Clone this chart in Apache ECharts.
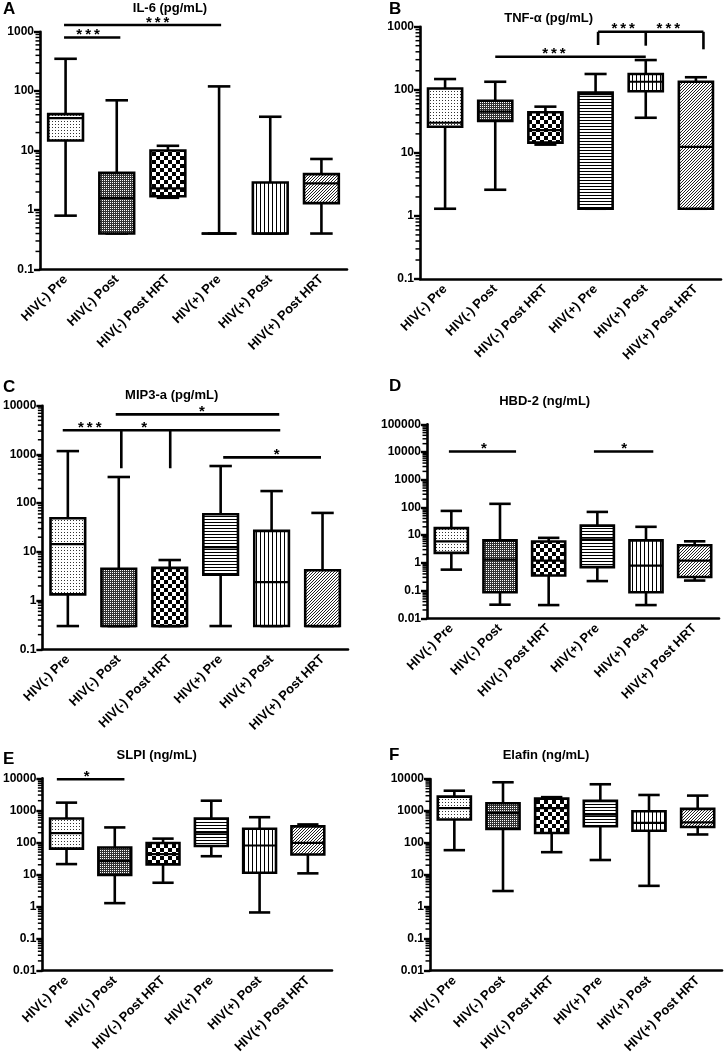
<!DOCTYPE html>
<html><head><meta charset="utf-8">
<script src="https://cdn.jsdelivr.net/npm/echarts@6/dist/echarts.min.js"></script>
<style>html,body{margin:0;padding:0;background:#fff}#c{width:725px;height:1056px}</style>
</head><body><div id="c"></div>
<script>
// ---------------- DATA ----------------
const categories = ["HIV(-) Pre","HIV(-) Post","HIV(-) Post HRT","HIV(+) Pre","HIV(+) Post","HIV(+) Post HRT"];
// each box: [min, q1, median, q3, max]
const il6   = [[0.8,14.7,35,41,350],[0.4,0.4,1.6,4.2,70],[1.6,1.7,2.3,10,12],[0.4,0.4,0.4,0.4,120],[0.4,0.4,0.4,2.9,37],[0.4,1.3,2.8,4.0,7.2]];
const tnfa  = [[1.3,26,30,105,148],[2.6,32,45,67,134],[13.5,14.5,23,44,54],[1.3,1.3,85,90,178],[36,95,134,178,296],[1.3,1.3,12.4,134,158]];
const mip3a = [[0.3,1.34,14.4,49,1170],[0.3,0.3,0.3,4.5,344],[0.3,0.3,0.3,4.7,6.8],[0.3,3.4,12.4,59,578],[0.3,0.3,2.4,27,177],[0.3,0.3,0.3,4.2,63]];
const hbd2  = [[0.57,2.3,6,18,75],[0.031,0.087,1.3,6.5,135],[0.03,0.35,1.2,5.9,8],[0.22,0.7,7,22,69],[0.03,0.087,0.8,6.5,20],[0.23,0.31,1.2,4.3,6]];
const slpi  = [[21,64,195,557,1740],[1.27,9.6,26,69,293],[5.5,20.6,43,96,131],[37,77,200,557,2000],[0.65,11.3,80,267,611],[10.8,42,96,315,363]];
const elafin= [[59,540,1230,2800,4300],[3.1,272,850,1740,7900],[51,204,1230,2430,2700],[29,330,760,2060,6840],[4.5,240,420,980,3160],[183,315,440,1160,3020]];

const panelTitles  = ["IL-6 (pg/mL)","TNF-α (pg/mL)","MIP3-a (pg/mL)","HBD-2 (ng/mL)","SLPI (ng/mL)","Elafin (ng/mL)"];
const panelLetters = ["A","B","C","D","E","F"];
const yMins = [0.1,0.1,0.1,0.01,0.01,0.01];
const yMaxs = [1000,1000,10000,100000,10000,10000];
const minorMultipliers = [2,3,4,5,6,7,8,9];

// significance: horizontal bars [xFrom, xTo, value], drops [x, valueTop, valueBottom], labels [x, value, text]
const sigBars = [
  [[-0.03,1.07,800],[-0.03,3.04,1300]],
  [[1,4,334],[3.05,5.15,830]],
  [[0.94,4.15,6650],[-0.1,4.17,3124],[3.05,4.97,871]],
  [[-0.05,1.33,10500],[2.93,4.15,10500]],
  [[-0.2,1.2,9300]],
  []
];
const sigDrops = [
  [],
  [[3.05,830,513],[4,830,500],[5.15,830,438]],
  [[1.05,3124,520],[2.01,3124,520]],
  [],[],[]
];
const sigLabels = [
  [[0.44,800,"***"],[1.8,1300,"***"]],
  [[2.17,334,"***"],[3.55,830,"***"],[4.45,830,"***"]],
  [[2.63,6650,"*"],[0.43,3124,"***"],[1.5,3124,"*"],[4.1,871,"*"]],
  [[0.67,10500,"*"],[3.55,10500,"*"]],
  [[0.42,9300,"*"]],
  []
];
const panelData = [il6,tnfa,mip3a,hbd2,slpi,elafin];

// ---------------- LAYOUT ----------------
const grids = [
  {left:40, top:31.7, width:307, height:237.6},
  {left:420,top:26.7, width:301, height:252.3},
  {left:40, top:405.7,width:308, height:243.6},
  {left:427,top:424.3,width:292, height:194},
  {left:41, top:778.3,width:291, height:194},
  {left:430,top:779,  width:292, height:192.7}
];
const titlePos  = [[170,8],[548.7,18.3],[171.7,395],[544.7,401.7],[156.7,755],[546,755]];
const letterPos = [[3,9.5],[389,9],[3,387.5],[389,386.7],[3,759],[389,755.5]];
const FONT = '"Liberation Sans", Arial, sans-serif';

// ---------------- PATTERNS ----------------
function mk(w,h,draw){const c=document.createElement('canvas');c.width=w;c.height=h;const g=c.getContext('2d');g.fillStyle='#fff';g.fillRect(0,0,w,h);draw(g);return {image:c,repeat:'repeat'};}
const pats = [
  mk(3,3,g=>{g.fillStyle='#333';g.fillRect(1,1,1,1);}),
  mk(2,2,g=>{g.fillStyle='#333';g.fillRect(0,1,1,1);g.fillRect(1,1,1,1);g.fillRect(1,0,1,1);}),
  mk(8,8,g=>{g.fillStyle='#000';g.fillRect(0,0,4,4);g.fillRect(4,4,4,4);}),
  mk(1,3,g=>{g.fillStyle='#000';g.fillRect(0,0,1,1);}),
  mk(4,1,g=>{g.fillStyle='#000';g.fillRect(0,0,1,1);}),
  mk(3,3,g=>{g.fillStyle='#222';for(let i=0;i<3;i++)g.fillRect(2-i,i,1,1);})
];

function renderBox(params, api){
  const i = api.value(0);
  const v=[api.value(1),api.value(2),api.value(3),api.value(4),api.value(5)];
  const band = api.size([1,1])[0];
  const bw = band*0.68, cw = band*0.44;
  const p = v.map(val=>api.coord([i,val]));
  const cx = p[0][0];
  const yMin=p[0][1], yQ1=p[1][1], yMed=p[2][1], yQ3=p[3][1], yMax=p[4][1];
  const ls={stroke:'#000',lineWidth:2.6};
  return {type:'group',children:[
    {type:'line',shape:{x1:cx,y1:yMin,x2:cx,y2:yMax},style:ls},
    {type:'line',shape:{x1:cx-cw/2,y1:yMin,x2:cx+cw/2,y2:yMin},style:ls},
    {type:'line',shape:{x1:cx-cw/2,y1:yMax,x2:cx+cw/2,y2:yMax},style:ls},
    {type:'rect',shape:{x:cx-bw/2,y:yQ3,width:bw,height:yQ1-yQ3},style:{fill:pats[i],stroke:'#000',lineWidth:2.6}},
    {type:'line',shape:{x1:cx-bw/2,y1:yMed,x2:cx+bw/2,y2:yMed},style:{stroke:'#000',lineWidth:2.2}}
  ]};
}
function renderSeg(params, api){
  const a = api.coord([api.value(0),api.value(1)]);
  const b = api.coord([api.value(2),api.value(3)]);
  return {type:'line',shape:{x1:a[0],y1:a[1],x2:b[0],y2:b[1]},style:{stroke:'#000',lineWidth:2.6}};
}
function renderMinor(params, api){
  const a = api.coord([api.value(0), api.value(1)]);
  return {type:'line',z2:10,shape:{x1:a[0]-4.5,y1:a[1],x2:a[0],y2:a[1]},style:{stroke:'#000',lineWidth:1.5}};
}
function makeLabelRender(k){
  return function(params, api){
    const a = api.coord([api.value(0),api.value(1)]);
    const t = sigLabels[k][params.dataIndex][2].split('').join('\u2009');
    return {type:'text',x:a[0],y:a[1]+5,style:{text:t,textAlign:'center',textVerticalAlign:'bottom',font:'bold 15px '+FONT,fill:'#000'}};
  };
}
function minorTickValues(lo, hi){
  const out=[];
  for(let d=lo; d<hi*0.999; d*=10){ minorMultipliers.forEach(m=>out.push([-0.5, +(d*m).toPrecision(6)])); }
  return out;
}

const option = {animation:false, backgroundColor:'#fff', grid:[], xAxis:[], yAxis:[], series:[], graphic:[]};
for(let k=0;k<6;k++){
  option.grid.push(Object.assign({containLabel:false}, grids[k]));
  option.xAxis.push({type:'category', gridIndex:k, data:categories,
    axisLine:{onZero:false,lineStyle:{color:'#000',width:2.6}},
    axisTick:{alignWithLabel:true,length:6,lineStyle:{color:'#000',width:2.6}},
    axisLabel:{interval:0,rotate:45,margin:8,fontSize:13,fontWeight:'bold',color:'#000',fontFamily:FONT},
    splitLine:{show:false}});
  option.xAxis.push({type:'value', gridIndex:k, min:-0.5, max:5.5, show:false});
  option.yAxis.push({type:'log', gridIndex:k, logBase:10, min:yMins[k], max:yMaxs[k],
    axisLine:{show:true,onZero:false,lineStyle:{color:'#000',width:2.6}},
    axisTick:{show:true,length:6,lineStyle:{color:'#000',width:2.4}},
    minorTick:{show:false},
    axisLabel:{margin:6,fontSize:12,fontWeight:'bold',color:'#000',fontFamily:FONT,
      formatter:v=>String(+(+v).toPrecision(6))},
    splitLine:{show:false}});
  option.series.push({type:'custom', xAxisIndex:2*k+1, yAxisIndex:k, renderItem:renderMinor, z:5,
    encode:{x:0,y:1}, data:minorTickValues(yMins[k], yMaxs[k]), silent:true, clip:false});
  option.series.push({type:'custom', xAxisIndex:2*k, yAxisIndex:k, renderItem:renderBox,
    encode:{x:0,y:[1,2,3,4,5]}, data:panelData[k].map((d,i)=>[i].concat(d)), silent:true});
  const segs = sigBars[k].map(b=>[b[0],b[2],b[1],b[2]]).concat(sigDrops[k].map(d=>[d[0],d[1],d[0],d[2]]));
  if(segs.length){
    option.series.push({type:'custom', xAxisIndex:2*k+1, yAxisIndex:k, renderItem:renderSeg,
      encode:{x:[0,2],y:[1,3]}, data:segs, silent:true});
  }
  if(sigLabels[k].length){
    option.series.push({type:'custom', xAxisIndex:2*k+1, yAxisIndex:k, renderItem:makeLabelRender(k),
      encode:{x:0,y:1}, data:sigLabels[k].map(l=>[l[0],l[1]]), silent:true});
  }
  option.graphic.push({type:'text', x:titlePos[k][0], y:titlePos[k][1],
    style:{text:panelTitles[k], textAlign:'center', textVerticalAlign:'middle', font:'bold 13px '+FONT, fill:'#000'}});
  option.graphic.push({type:'text', x:letterPos[k][0], y:letterPos[k][1],
    style:{text:panelLetters[k], textAlign:'left', textVerticalAlign:'middle', font:'bold 17px '+FONT, fill:'#000'}});
}
const chart = echarts.init(document.getElementById('c'));
chart.setOption(option);
</script></body></html>
